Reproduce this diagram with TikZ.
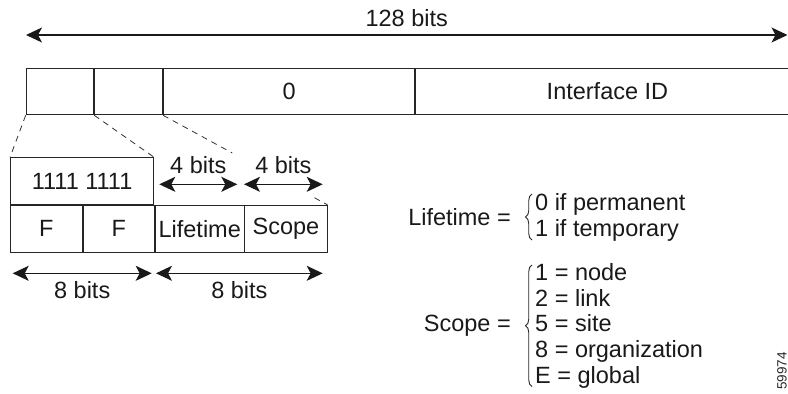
\documentclass[tikz,border=0pt]{standalone}
\usepackage{fontspec}
\setmainfont{Liberation Sans}
\usetikzlibrary{arrows.meta,calc,decorations.pathreplacing}
\begin{document}
\begin{tikzpicture}[x=1pt,y=-1pt,
  lab/.style={font=\fontsize{23.5}{25.8}\selectfont, text=black!90},
  field/.style={draw=black!85, line width=0.9pt, minimum height=46.7pt, inner sep=0pt, anchor=north west, lab},
  dim/.style={line width=1.2pt, draw=black!90, {Stealth[length=16pt,width=15pt,inset=4pt]}-{Stealth[length=16pt,width=15pt,inset=4pt]}},
  dashline/.style={line width=0.8pt, draw=black!80, dash pattern=on 6pt off 5pt},
  bracedec/.style={decorate, decoration={brace, amplitude=6.5pt}, line width=0.9pt, draw=black!85},
  dimlab/.style={lab, inner sep=0pt},
]
\useasboundingbox (0,0) rectangle (788,394);

% main address fields
\node[field, minimum width=67.6pt] (f1) at (25.7,67.7) {};
\node[field, minimum width=68pt] (f2) at (f1.north east) {};
\node[field, minimum width=251pt] (f3) at (f2.north east) {0};
\node[field, minimum width=384pt] (f4) at (f3.north east) {Interface ID};

% 128 bits arrow
\coordinate (tl) at (26,35);
\coordinate (tr) at (787.5,35);
\draw[dim] (tl) -- (tr) node[midway, above=8pt, dimlab] (t128) {128 bits};

% detail fields
\node[field, minimum width=143.3pt] (ones) at (10,157.3) {1111 1111};
\node[field, minimum width=71.7pt] (F1) at (ones.south west) {F};
\node[field, minimum width=71.6pt] (F2) at (F1.north east) {F};
\node[field, minimum width=88.4pt] (life) at (F2.north east) {Lifetime};
\node[field, minimum width=82.3pt] (scope) at (life.north east) {Scope};

% dashed expansion lines
\draw[dashline] (f1.south west) -- (ones.north west);
\draw[dashline] (f2.south west) -- (ones.north east);
\draw[dashline] (f3.south west) -- ($(f3.south west)!0.42!(scope.north east)$);
\draw[dashline] ($(f3.south west)!0.92!(scope.north east)$) -- (scope.north east);

% 4 bits arrows
\coordinate (a1) at (159.3,184.3);
\coordinate (a2) at (237.3,184.3);
\coordinate (a3) at (244,184.3);
\coordinate (a4) at (322.7,184.3);
\draw[dim] (a1) -- (a2) node[midway, above=10pt, dimlab] (b4a) {4 bits};
\draw[dim] (a3) -- (a4) node[midway, above=10pt, dimlab] (b4b) {4 bits};

% 8 bits arrows
\coordinate (c1) at (12.7,273.3);
\coordinate (c2) at (151.7,273.3);
\coordinate (c3) at (156,273.3);
\coordinate (c4) at (322.7,273.3);
\draw[dim] (c1) -- (c2) node[midway, below=8pt, dimlab] (b8a) {8 bits};
\draw[dim] (c3) -- (c4) node[midway, below=8pt, dimlab] (b8b) {8 bits};

% Lifetime definition
\node[lab, align=left, inner sep=0pt, anchor=north west] (lv) at (535,193) {0 if permanent\\1 if temporary};
\draw[bracedec] ($(lv.south west)+(-3,-1)$) -- ($(lv.north west)+(-3,1)$);
\node[lab, inner sep=0pt, anchor=east] (lk) at ($(lv.west)+(-24,0)$) {Lifetime =};

% Scope definition
\node[lab, align=left, inner sep=0pt, anchor=north west] (sv) at (535,263) {1 = node\\2 = link\\5 = site\\8 = organization\\E = global};
\draw[bracedec] ($(sv.south west)+(-3,-2)$) -- ($(sv.north west)+(-3,2)$);
\node[lab, inner sep=0pt, anchor=east] (sk) at ($(sv.west)+(-24,0)$) {Scope =};

% figure code
\node[font=\fontsize{13.5}{14}\selectfont, rotate=90, anchor=base, inner sep=0pt, text=black!85] (code) at (786.5,371) {59974};
\end{tikzpicture}
\end{document}
